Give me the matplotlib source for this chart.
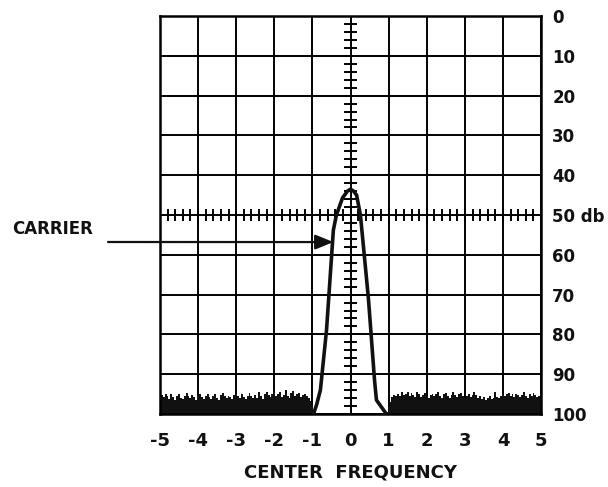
import numpy as np
import matplotlib.pyplot as plt

# spectrum analyzer trace, frequency axis in divisions from center, level in db
freq_ticks = [-5, -4, -3, -2, -1, 0, 1, 2, 3, 4, 5]
freq_labels = ['-5', '-4', '-3', '-2', '-1', '0', '1', '2', '3', '4', '5']
db_ticks = [0, 10, 20, 30, 40, 50, 60, 70, 80, 90, 100]
db_labels = ['0', '10', '20', '30', '40', '50 db', '60', '70', '80', '90', '100']

carrier_x = [-0.97, -0.89, -0.79, -0.63, -0.45, -0.37, -0.21, -0.08, 0.0,
             0.08, 0.16, 0.26, 0.47, 0.63, 0.68, 0.94]
carrier_y = [100, 97.7, 94, 79, 53.8, 50, 45.7, 44.0, 43.5,
             44.0, 45.0, 50, 71, 91.5, 96.5, 100]

# noise floor, read every 0.05 division
left_x = np.round(np.arange(-5.0, -0.949, 0.05), 2)
left_noise = [96.0, 95.3, 95.8, 94.9, 95.6, 96.2, 95.1, 95.7, 96.4, 95.5,
              95.0, 95.9, 96.3, 95.4, 94.8, 95.6, 96.1, 95.2, 95.8, 96.5,
              95.3, 94.9, 95.7, 96.2, 95.5, 95.0, 95.8, 96.3, 95.6, 95.1,
              95.9, 96.4, 95.2, 94.7, 95.5, 96.0, 95.4, 95.8, 96.2, 95.3,
              94.9, 95.6, 96.1, 95.0, 95.7, 96.3, 95.5, 94.8, 95.4, 96.0,
              95.2, 95.9, 94.6, 95.5, 96.2, 95.1, 94.4, 95.3, 95.8, 94.9,
              94.2, 95.6, 95.0, 94.5, 95.7, 95.3, 94.1, 95.4, 95.9, 94.8,
              94.3, 95.5, 95.1, 94.7, 95.8, 95.2, 94.9, 95.6, 96.0, 96.8,
              98.0, 99.5]
right_x = np.round(np.arange(0.95, 5.001, 0.05), 2)
right_noise = [99.6, 98.2, 96.9, 95.8, 95.2, 95.6, 94.9, 95.4, 94.6, 95.3,
               95.0, 94.4, 95.6, 94.8, 95.2, 95.7, 94.5, 95.1, 95.8, 95.3,
               94.7, 95.5, 96.0, 95.2, 94.9, 95.6, 95.0, 94.6, 95.4, 95.9,
               95.1, 94.8, 95.5, 96.1, 95.3, 94.5, 95.2, 95.8, 95.0, 94.7,
               95.6, 96.0, 95.4, 94.9, 95.7, 95.2, 94.6, 95.3, 95.9, 95.5,
               96.2, 95.8, 96.4, 96.0, 95.6, 96.3, 96.1, 94.5, 95.7, 96.0,
               95.4, 94.8, 95.6, 95.1, 94.7, 95.5, 95.0, 95.8, 94.9, 95.3,
               95.7, 95.2, 94.6, 95.4, 95.9, 95.1, 95.6, 94.8, 95.3, 95.7,
               95.5, 95.2]

fig = plt.figure(figsize=(6.08, 4.87), dpi=100)
ax = fig.add_axes([0.263, 0.150, 0.627, 0.817])
ax.set_xlim(-5, 5)
ax.set_ylim(100, 0)

# graticule
for x in freq_ticks:
    ax.axvline(x, color='black', lw=1.4, zorder=1)
for y in db_ticks:
    ax.axhline(y, color='black', lw=1.4, zorder=1)

# center graticule marks
for y in np.arange(0, 101, 2):
    half = 0.2 if y % 10 == 0 else 0.15
    ax.plot([-half, half], [y, y], color='black', lw=1.4, zorder=1)
for x in np.arange(-5, 5.01, 0.2):
    half = 1.6 if abs(x - round(x)) < 1e-6 else 1.3
    ax.plot([x, x], [50 - half, 50 + half], color='black', lw=1.4, zorder=1)

# noise floor
ax.fill_between(left_x, left_noise, 100, step='mid', color='#111111', lw=0, zorder=2)
ax.fill_between(right_x, right_noise, 100, step='mid', color='#111111', lw=0, zorder=2)

# carrier
ax.plot(carrier_x, carrier_y, color='#111111', lw=2.6, solid_joinstyle='round', zorder=3)

for s in ax.spines.values():
    s.set_linewidth(1.8)

ax.set_xticks(freq_ticks)
ax.set_xticklabels(freq_labels, fontweight='bold', fontsize=13)
ax.set_yticks(db_ticks)
ax.set_yticklabels(db_labels, fontweight='bold', fontsize=12)
ax.yaxis.tick_right()
ax.tick_params(length=0, colors='#111111')
ax.tick_params(axis='x', pad=13)
ax.tick_params(axis='y', pad=8)
ax.set_xlabel('CENTER  FREQUENCY', fontsize=13, fontweight='bold', labelpad=10,
              color='#111111')

# carrier arrow
ax.annotate('', xy=(-0.45, 56.8), xycoords='data',
            xytext=(108, 487 - 242), textcoords='figure pixels',
            arrowprops=dict(arrowstyle='-|>,head_length=1.1,head_width=0.45',
                            color='#111111', lw=1.6, shrinkA=0, shrinkB=0))
fig.text(12 / 608, 1 - 229 / 487, 'CARRIER', fontsize=12, fontweight='bold',
         va='center', ha='left', color='#111111')

plt.savefig('out.png', dpi=100)
